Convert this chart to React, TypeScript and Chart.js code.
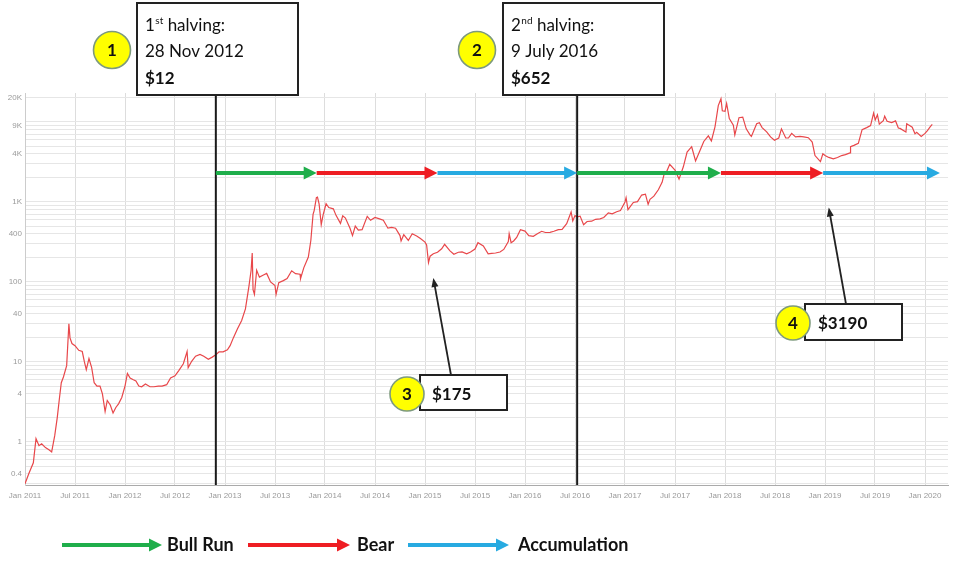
import React, { useEffect, useRef } from "react";
import { Chart, registerables } from "chart.js";

Chart.register(...registerables);

// ---------------- data ----------------
const priceDates = [
  "2011-01-01","2011-01-15","2011-02-01","2011-02-10","2011-02-20","2011-03-01","2011-03-15","2011-03-28",
  "2011-04-07","2011-04-18","2011-04-27","2011-05-05","2011-05-12","2011-05-20","2011-06-01","2011-06-09",
  "2011-06-13","2011-06-20","2011-07-01","2011-07-15","2011-07-28","2011-08-05","2011-08-12","2011-08-22",
  "2011-09-01","2011-09-10","2011-09-20","2011-10-01","2011-10-10","2011-10-20","2011-10-28","2011-11-08",
  "2011-11-18","2011-11-28","2011-12-08","2011-12-20","2012-01-01","2012-01-10","2012-01-20","2012-02-01",
  "2012-02-10","2012-02-20","2012-03-01","2012-03-15","2012-04-01","2012-04-15","2012-05-01","2012-05-15",
  "2012-06-01","2012-06-15","2012-07-01","2012-07-15","2012-08-01","2012-08-15","2012-08-19","2012-09-01",
  "2012-09-15","2012-10-01","2012-10-15","2012-11-01","2012-11-15","2012-11-28","2012-12-10","2012-12-25",
  "2013-01-10","2013-01-20","2013-02-01","2013-02-15","2013-03-01","2013-03-15","2013-03-28","2013-04-05",
  "2013-04-09","2013-04-12","2013-04-17","2013-04-25","2013-05-05","2013-05-20","2013-06-01","2013-06-15",
  "2013-07-01","2013-07-05","2013-07-15","2013-08-01","2013-08-15","2013-09-01","2013-09-15","2013-10-01",
  "2013-10-03","2013-10-15","2013-11-01","2013-11-10","2013-11-18","2013-11-22","2013-11-30","2013-12-04",
  "2013-12-10","2013-12-18","2013-12-25","2014-01-05","2014-01-15","2014-02-01","2014-02-10","2014-02-25",
  "2014-03-05","2014-03-15","2014-04-01","2014-04-10","2014-04-20","2014-05-01","2014-05-15","2014-06-03",
  "2014-06-15","2014-07-01","2014-07-15","2014-08-01","2014-08-18","2014-09-01","2014-09-15","2014-10-01",
  "2014-10-05","2014-10-15","2014-11-01","2014-11-15","2014-12-01","2014-12-15","2015-01-01","2015-01-07",
  "2015-01-14","2015-01-20","2015-02-01","2015-02-15","2015-03-01","2015-03-12","2015-04-01","2015-04-15",
  "2015-05-01","2015-05-15","2015-06-01","2015-06-15","2015-07-01","2015-07-12","2015-08-01","2015-08-19",
  "2015-09-01","2015-09-15","2015-10-01","2015-10-15","2015-11-01","2015-11-04","2015-11-11","2015-11-20",
  "2015-12-01","2015-12-15","2016-01-01","2016-01-15","2016-02-01","2016-02-15","2016-03-01","2016-03-15",
  "2016-04-01","2016-04-15","2016-05-01","2016-05-15","2016-06-01","2016-06-17","2016-06-23","2016-07-01",
  "2016-07-09","2016-07-20","2016-08-02","2016-08-15","2016-09-01","2016-09-15","2016-10-01","2016-10-15",
  "2016-11-01","2016-11-15","2016-12-01","2016-12-15","2017-01-01","2017-01-05","2017-01-12","2017-02-01",
  "2017-02-15","2017-03-01","2017-03-15","2017-03-25","2017-04-01","2017-04-15","2017-05-01","2017-05-15",
  "2017-05-25","2017-06-01","2017-06-12","2017-07-01","2017-07-16","2017-08-01","2017-08-15","2017-09-01",
  "2017-09-15","2017-10-01","2017-10-15","2017-11-01","2017-11-12","2017-11-25","2017-12-07","2017-12-17",
  "2017-12-22","2018-01-01","2018-01-07","2018-01-17","2018-02-01","2018-02-06","2018-02-20","2018-03-05",
  "2018-03-18","2018-04-01","2018-04-06","2018-04-25","2018-05-05","2018-05-15","2018-06-01","2018-06-15",
  "2018-06-29","2018-07-15","2018-07-25","2018-08-10","2018-08-20","2018-09-01","2018-09-15","2018-10-01",
  "2018-10-15","2018-11-01","2018-11-15","2018-11-25","2018-12-15","2018-12-24","2019-01-01","2019-01-15",
  "2019-02-01","2019-02-15","2019-03-01","2019-03-15","2019-04-01","2019-04-03","2019-04-15","2019-05-01",
  "2019-05-15","2019-06-01","2019-06-15","2019-06-26","2019-07-02","2019-07-10","2019-07-17","2019-08-01",
  "2019-08-06","2019-08-15","2019-09-01","2019-09-15","2019-09-25","2019-10-01","2019-10-23","2019-10-26",
  "2019-11-01","2019-11-15","2019-11-25","2019-12-01","2019-12-18","2020-01-01","2020-01-10","2020-01-20",
  "2020-01-28",
];

const priceValues = [
  0.30, 0.40, 0.55, 1.10, 0.90, 0.95, 0.85, 0.80,
  0.75, 1.2, 2.0, 3.5, 5.5, 6.5, 9.0, 30.0,
  20, 17, 16, 14, 13.5, 10, 8, 11,
  8.5, 5.5, 5.0, 5.0, 4.0, 2.4, 3.3, 2.9,
  2.3, 2.7, 3.0, 3.6, 5.0, 7.2, 6.3, 6.0,
  5.8, 5.0, 4.9, 5.3, 4.9, 4.9, 5.0, 5.0,
  5.2, 6.3, 6.7, 7.8, 9.5, 13.5, 8.5, 10.2,
  11.8, 12.4, 11.8, 10.8, 11.5, 12.3, 13.4, 13.4,
  14.2, 16, 20, 26, 33, 46, 88, 140,
  230, 80, 70, 140, 115, 122, 128, 100,
  90, 70, 98, 104, 110, 138, 127, 125,
  110, 150, 205, 330, 700, 780, 1130, 1150,
  950, 520, 690, 950, 850, 820, 680, 540,
  670, 630, 470, 380, 500, 445, 450, 660,
  590, 640, 620, 590, 470, 480, 470, 380,
  325, 390, 330, 400, 375, 350, 315, 290,
  175, 210, 225, 235, 260, 295, 245, 222,
  235, 237, 225, 237, 258, 310, 282, 225,
  228, 230, 237, 255, 320, 400, 310, 325,
  360, 450, 432, 380, 372, 400, 430, 415,
  417, 430, 450, 455, 535, 750, 580, 675,
  652, 665, 520, 570, 575, 607, 614, 640,
  730, 710, 755, 780, 1000, 1130, 800, 985,
  1010, 1220, 1250, 935, 1080, 1180, 1420, 1760,
  2400, 2400, 2950, 2500, 1930, 2750, 4200, 4900,
  3250, 4400, 5700, 6700, 5800, 8700, 16000, 19500,
  13800, 13600, 17000, 11000, 9100, 6900, 11300, 11500,
  8200, 6900, 6600, 9500, 9800, 8500, 7500, 6500,
  5900, 6300, 8200, 6300, 6300, 7200, 6500, 6600,
  6500, 6350, 5600, 3800, 3190, 4000, 3800, 3600,
  3450, 3600, 3800, 3900, 4100, 4900, 5100, 5400,
  8000, 8500, 9000, 12900, 10600, 12300, 9400, 10400,
  11800, 10200, 9800, 10300, 8400, 8300, 7500, 9500,
  9200, 8600, 7100, 7400, 6600, 7200, 7800, 8700,
  9300,
];

const xTickDates = [
  "2011-01-01","2011-07-01","2012-01-01","2012-07-01","2013-01-01","2013-07-01","2014-01-01",
  "2014-07-01","2015-01-01","2015-07-01","2016-01-01","2016-07-01","2017-01-01","2017-07-01",
  "2018-01-01","2018-07-01","2019-01-01","2019-07-01","2020-01-01",
];
const xTickLabels = [
  "Jan 2011","Jul 2011","Jan 2012","Jul 2012","Jan 2013","Jul 2013","Jan 2014",
  "Jul 2014","Jan 2015","Jul 2015","Jan 2016","Jul 2016","Jan 2017","Jul 2017",
  "Jan 2018","Jul 2018","Jan 2019","Jul 2019","Jan 2020",
];

const yGridValues = [
  0.3, 0.4, 0.5, 0.6, 0.7, 0.8, 0.9,
  1, 2, 3, 4, 5, 6, 7, 8, 9,
  10, 20, 30, 40, 50, 60, 70, 80, 90,
  100, 200, 300, 400, 500, 600, 700, 800, 900,
  1000, 2000, 3000, 4000, 5000, 6000, 7000, 8000, 9000,
  10000, 20000,
];
const yTickValues = [0.4, 1, 4, 10, 40, 100, 400, 1000, 4000, 9000, 20000];
const yTickLabels = ["0.4", "1", "4", "10", "40", "100", "400", "1K", "4K", "9K", "20K"];

const halvingDates = ["2012-11-28", "2016-07-09"];

const phaseStarts = ["2012-11-28", "2013-12-01", "2015-02-15", "2016-07-09", "2017-12-17", "2018-12-25"];
const phaseEnds = ["2013-12-01", "2015-02-15", "2016-07-09", "2017-12-17", "2018-12-25", "2020-02-24"];
const phaseKinds = ["bull", "bear", "acc", "bull", "bear", "acc"];
const phaseLevel = 2300;

const legendKinds = ["bull", "bear", "acc"];
const legendLabels = ["Bull Run", "Bear", "Accumulation"];

const calloutTipDates = ["2015-02-01", "2019-01-15"];
const calloutTipValues = [112, 850];
const calloutLabels = ["$175", "$3190"];

// ---------------- helpers ----------------
const COLORS: Record<string, string> = { bull: "#1fae4b", bear: "#ee1d23", acc: "#27aae1" };
const FONT = "Lato, 'Open Sans', sans-serif";

function toMonths(s: string): number {
  const [y, m, d] = s.split("-").map(Number);
  const dim = new Date(Date.UTC(y, m, 0)).getUTCDate();
  return (y - 2011) * 12 + (m - 1) + (d - 1) / dim;
}

function arrow(ctx: CanvasRenderingContext2D, x1: number, y1: number, x2: number, y2: number,
  color: string, width: number, headLen: number, headHalf: number) {
  const ang = Math.atan2(y2 - y1, x2 - x1);
  const bx = x2 - Math.cos(ang) * headLen;
  const by = y2 - Math.sin(ang) * headLen;
  ctx.save();
  ctx.strokeStyle = color;
  ctx.fillStyle = color;
  ctx.lineWidth = width;
  ctx.lineCap = "butt";
  ctx.beginPath();
  ctx.moveTo(x1, y1);
  ctx.lineTo(bx + Math.cos(ang) * 1, by + Math.sin(ang) * 1);
  ctx.stroke();
  ctx.beginPath();
  ctx.moveTo(x2, y2);
  ctx.lineTo(bx - Math.sin(ang) * headHalf, by + Math.cos(ang) * headHalf);
  ctx.lineTo(bx + Math.sin(ang) * headHalf, by - Math.cos(ang) * headHalf);
  ctx.closePath();
  ctx.fill();
  ctx.restore();
}

function badge(ctx: CanvasRenderingContext2D, cx: number, cy: number, r: number, label: string) {
  ctx.save();
  ctx.beginPath();
  ctx.arc(cx, cy, r, 0, Math.PI * 2);
  ctx.fillStyle = "#ffff00";
  ctx.fill();
  ctx.lineWidth = 1.6;
  ctx.strokeStyle = "#7d9a7d";
  ctx.stroke();
  ctx.fillStyle = "#111";
  ctx.font = `bold 17px ${FONT}`;
  ctx.textAlign = "center";
  ctx.textBaseline = "middle";
  ctx.fillText(label, cx, cy + 1);
  ctx.restore();
}

function box(ctx: CanvasRenderingContext2D, x: number, y: number, w: number, h: number) {
  ctx.save();
  ctx.fillStyle = "#ffffff";
  ctx.fillRect(x, y, w, h);
  ctx.lineWidth = 2;
  ctx.strokeStyle = "#222";
  ctx.strokeRect(x, y, w, h);
  ctx.restore();
}

const annotationPlugin = {
  id: "btcAnnotations",
  afterDraw(chart: any) {
    const ctx: CanvasRenderingContext2D = chart.ctx;
    const xs = chart.scales.x;
    const ys = chart.scales.y;
    const area = chart.chartArea;

    // halving lines
    halvingDates.forEach((d) => {
      const x = xs.getPixelForValue(toMonths(d));
      ctx.save();
      ctx.strokeStyle = "#1a1a1a";
      ctx.lineWidth = 2;
      ctx.beginPath();
      ctx.moveTo(x, 95);
      ctx.lineTo(x, area.bottom);
      ctx.stroke();
      ctx.restore();
    });

    // phase arrows
    const py = ys.getPixelForValue(phaseLevel);
    phaseStarts.forEach((s, i) => {
      const x1 = xs.getPixelForValue(toMonths(s));
      const x2 = Math.min(xs.getPixelForValue(toMonths(phaseEnds[i])), area.right);
      arrow(ctx, x1, py, x2, py, COLORS[phaseKinds[i]], 4, 13, 6.5);
    });

    // halving boxes
    const boxes = [
      { x: 137, num: "1", cx: 112, sup: "st", date: "28 Nov 2012", price: "$12" },
      { x: 503, num: "2", cx: 477, sup: "nd", date: "9 July 2016", price: "$652" },
    ];
    boxes.forEach((b) => {
      box(ctx, b.x, 3, 161, 92);
      ctx.save();
      ctx.fillStyle = "#111";
      ctx.textAlign = "left";
      ctx.textBaseline = "alphabetic";
      const tx = b.x + 8;
      ctx.font = `17px ${FONT}`;
      ctx.fillText(b.num, tx, 31);
      const w1 = ctx.measureText(b.num).width;
      ctx.font = `10px ${FONT}`;
      ctx.fillText(b.sup, tx + w1 + 0.5, 24);
      const w2 = ctx.measureText(b.sup).width;
      ctx.font = `17px ${FONT}`;
      ctx.fillText(" halving:", tx + w1 + w2 + 0.5, 31);
      ctx.fillText(b.date, tx, 57);
      ctx.font = `bold 17px ${FONT}`;
      ctx.fillText(b.price, tx, 84);
      ctx.restore();
      badge(ctx, b.cx, 50, 18.5, b.num);
    });

    // callouts
    const callouts = [
      { bx: 420, by: 375, bw: 87, bh: 35, base: 451, cx: 407, cy: 394, num: "3" },
      { bx: 805, by: 304, bw: 97, bh: 36, base: 846, cx: 793, cy: 323, num: "4" },
    ];
    callouts.forEach((c, i) => {
      const tx = xs.getPixelForValue(toMonths(calloutTipDates[i]));
      const ty = ys.getPixelForValue(calloutTipValues[i]);
      arrow(ctx, c.base, c.by, tx, ty, "#222", 1.8, 9, 3.5);
      box(ctx, c.bx, c.by, c.bw, c.bh);
      ctx.save();
      ctx.fillStyle = "#111";
      ctx.font = `bold 17px ${FONT}`;
      ctx.textAlign = "left";
      ctx.textBaseline = "alphabetic";
      ctx.fillText(calloutLabels[i], c.cx + 25, c.cy + 6);
      ctx.restore();
      badge(ctx, c.cx, c.cy, 17, c.num);
    });

    // legend
    const legendX = [[62, 162, 167], [248, 350, 357], [408, 509, 518]];
    legendKinds.forEach((k, i) => {
      const [a, b, t] = legendX[i];
      arrow(ctx, a, 545, b, 545, COLORS[k], 4, 13, 6.5);
      ctx.save();
      ctx.fillStyle = "#111";
      ctx.font = `bold 18px ${FONT}`;
      ctx.textAlign = "left";
      ctx.textBaseline = "middle";
      ctx.fillText(legendLabels[i], t, 545);
      ctx.restore();
    });
  },
};

export default function App() {
  const ref = useRef<HTMLCanvasElement | null>(null);

  useEffect(() => {
    document.body.style.margin = "0";
    const canvas = ref.current;
    if (!canvas) return;
    const chart = new Chart(canvas, {
      type: "line",
      data: {
        datasets: [
          {
            data: priceDates.map((d, i) => ({ x: toMonths(d), y: priceValues[i] })),
            borderColor: "#e8474a",
            borderWidth: 1.2,
            pointRadius: 0,
            tension: 0,
            fill: false,
          },
        ],
      },
      options: {
        responsive: false,
        animation: false,
        layout: { padding: { top: 93, right: 8, left: 0, bottom: 0 } },
        plugins: { legend: { display: false }, tooltip: { enabled: false } },
        scales: {
          x: {
            type: "linear",
            min: 0,
            max: 110.76,
            afterBuildTicks: (s: any) => {
              s.ticks = xTickDates.map((d) => ({ value: toMonths(d) }));
            },
            afterFit: (s: any) => {
              s.height = 77;
            },
            ticks: {
              autoSkip: false,
              maxRotation: 0,
              padding: 6,
              color: "#9a9a9a",
              font: { family: "'Liberation Sans', sans-serif", size: 8 },
              callback: (_v: any, i: number) => xTickLabels[i],
            },
            grid: { color: "#dddddd", drawTicks: false },
            border: { color: "#aaaaaa" },
          },
          y: {
            type: "logarithmic",
            min: 0.29,
            max: 23000,
            afterBuildTicks: (s: any) => {
              s.ticks = yGridValues.map((v) => ({ value: v }));
            },
            afterFit: (s: any) => {
              s.width = 25;
            },
            ticks: {
              autoSkip: false,
              padding: 3,
              color: "#9a9a9a",
              font: { family: "'Liberation Sans', sans-serif", size: 8 },
              callback: (v: any) => {
                const k = yTickValues.indexOf(Number(v));
                return k >= 0 ? yTickLabels[k] : "";
              },
            },
            grid: { color: "#e6e6e6", drawTicks: false },
            border: { color: "#cccccc" },
          },
        },
      },
      plugins: [annotationPlugin],
    } as any);
    return () => chart.destroy();
  }, []);

  return <canvas ref={ref} width={956} height={562} style={{ display: "block" }} />;
}
